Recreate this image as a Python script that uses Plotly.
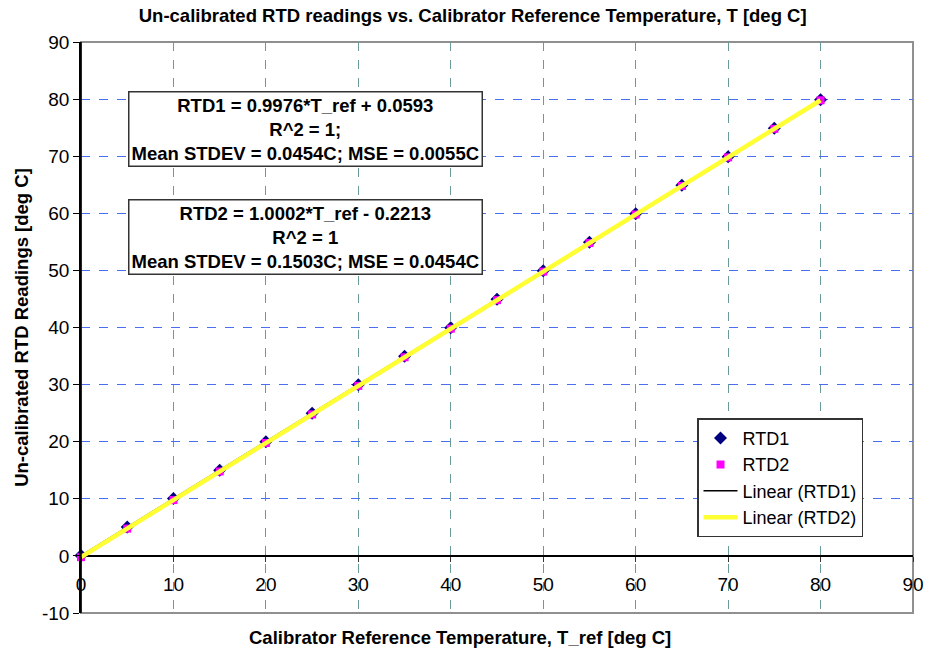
import plotly.graph_objects as go

# Calibrator reference temperatures and raw sensor readings [deg C]
t_ref = [0, 5, 10, 15, 20, 25, 30, 35, 40, 45, 50, 55, 60, 65, 70, 75, 80]
rtd1 = [0.06, 5.05, 10.04, 15.02, 20.01, 25.00, 29.99, 34.98, 39.96,
        44.95, 49.94, 54.93, 59.92, 64.90, 69.89, 74.88, 79.87]
rtd2 = [-0.22, 4.78, 9.78, 14.78, 19.78, 24.78, 29.78, 34.79, 39.79,
        44.79, 49.79, 54.79, 59.79, 64.79, 69.79, 74.79, 79.79]

# Linear fit coefficients (slope, intercept)
fit1 = (0.9976, 0.0593)
fit2 = (1.0002, -0.2213)

x_ticks = [0, 10, 20, 30, 40, 50, 60, 70, 80, 90]
y_ticks = [-10, 0, 10, 20, 30, 40, 50, 60, 70, 80, 90]
y_tick_labels = ["-10", "0", "10", "20", "30", "40", "50", "60", "70", "80", "90"]

FONT = "Arial, Liberation Sans, sans-serif"

fit_x = [t_ref[0], t_ref[-1]]
line1 = [fit1[0] * v + fit1[1] for v in fit_x]
line2 = [fit2[0] * v + fit2[1] for v in fit_x]

fig = go.Figure()
fig.add_trace(go.Scatter(x=t_ref, y=rtd1, mode="markers", name="RTD1", cliponaxis=False,
                         marker=dict(symbol="diamond", size=10, color="#000080")))
fig.add_trace(go.Scatter(x=t_ref, y=rtd2, mode="markers", name="RTD2", cliponaxis=False,
                         marker=dict(symbol="square", size=8, color="#ff00ff")))
fig.add_trace(go.Scatter(x=fit_x, y=line1, mode="lines", name="Linear (RTD1)",
                         cliponaxis=False, line=dict(color="black", width=1.5)))
fig.add_trace(go.Scatter(x=fit_x, y=line2, mode="lines", name="Linear (RTD2)",
                         cliponaxis=False, line=dict(color="#ffff33", width=4.5)))

box_text = [
    "<b>RTD1 = 0.9976*T_ref + 0.0593<br>R^2 = 1;<br>Mean STDEV = 0.0454C; MSE = 0.0055C</b>",
    "<b>RTD2 = 1.0002*T_ref - 0.2213<br>R^2 = 1<br>Mean STDEV = 0.1503C; MSE = 0.0454C</b>",
]
box_y = [74.8, 55.9]
for txt, yy in zip(box_text, box_y):
    fig.add_annotation(x=24.3, y=yy, xref="x", yref="y", text=txt, showarrow=False,
                       align="center", font=dict(family=FONT, size=18.5, color="black"),
                       bgcolor="white", bordercolor="#333333", borderwidth=1.5,
                       borderpad=2)

fig.update_layout(
    width=925, height=654,
    margin=dict(l=81, r=12, t=42, b=41, autoexpand=False),
    paper_bgcolor="white", plot_bgcolor="white",
    font=dict(family=FONT, size=19, color="black"),
    title=dict(text="<b>Un-calibrated RTD readings vs. Calibrator Reference Temperature, T [deg C]</b>",
               x=0.511, xanchor="center", y=0.976, yanchor="middle",
               font=dict(family=FONT, size=18.5)),
    showlegend=True,
    legend=dict(x=0.7404, y=0.341, xanchor="left", yanchor="top",
                bgcolor="white", bordercolor="#333333", borderwidth=1.5,
                font=dict(family=FONT, size=18), itemwidth=34,
                tracegroupgap=0),
)

fig.update_xaxes(range=[0, 90], tickvals=x_ticks, ticks="outside", ticklen=5,
                 tickcolor="#333333", showline=False, automargin=False,
                 zeroline=False, anchor="free", position=0.1, ticklabelstandoff=6,
                 showgrid=True, gridcolor="#6a9a9a", griddash="dash", gridwidth=1,
                 tickfont=dict(size=19))
fig.update_yaxes(range=[-10, 90], tickvals=y_ticks, ticktext=y_tick_labels,
                 ticks="outside", ticklen=6,
                 tickcolor="black", showline=True, automargin=False,
                 linecolor="black", linewidth=1.5, zeroline=True,
                 zerolinecolor="black", zerolinewidth=1.5,
                 showgrid=True, gridcolor="#4a6ef0", griddash="dash", gridwidth=1,
                 title=dict(text="<b>Un-calibrated RTD Readings [deg C]</b>",
                            font=dict(size=18.5), standoff=9),
                 tickfont=dict(size=19))

# Plot area frame
fig.add_shape(type="rect", xref="paper", yref="paper", x0=0, y0=0, x1=1, y1=1,
              line=dict(color="#909090", width=2), layer="below")
fig.add_shape(type="line", xref="paper", yref="paper", x0=0, y0=0, x1=0, y1=1,
              line=dict(color="black", width=1.5), layer="above")

fig.add_annotation(text="<b>Calibrator Reference Temperature, T_ref [deg C]</b>",
                   xref="paper", yref="paper", x=0.4555, y=-0.043, yanchor="middle",
                   showarrow=False, font=dict(family=FONT, size=18.5))

fig.write_html("out.html")
